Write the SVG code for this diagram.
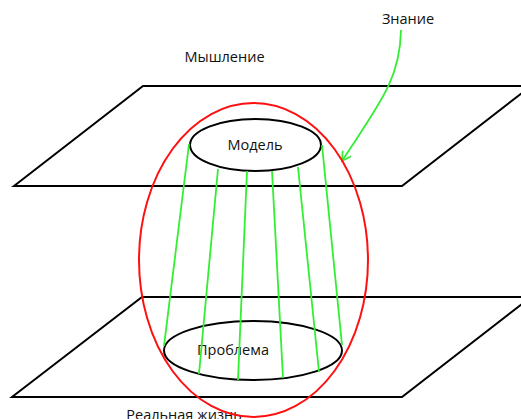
<svg xmlns="http://www.w3.org/2000/svg" width="521" height="419" viewBox="0 0 521 419">
<defs>
<style>
.plane{fill:none;stroke:#000;stroke-width:2}
.ell{fill:none;stroke:#000;stroke-width:2}
.green{fill:none;stroke:#33ee33;stroke-width:1.8}
.red{fill:none;stroke:#ff1010;stroke-width:2}
text{font-family:"Open Sans","Noto Sans",sans-serif;font-size:14.5px;fill:#111}
</style>
<marker id="arr" markerWidth="12" markerHeight="12" refX="10" refY="6" orient="auto" markerUnits="userSpaceOnUse">
<path d="M1,1 L10,6 L1,11" fill="none" stroke="#33ee33" stroke-width="1.8"/>
</marker>
</defs>
<rect width="521" height="419" fill="#fff"/>
<g id="plane-thinking">
<polygon class="plane" points="14,186 143,86 531,86 402,186"/>
<text x="224.5" y="62" text-anchor="middle">Мышление</text>
</g>
<g id="plane-life">
<polygon class="plane" points="12,397 142,297 531,297 402,397"/>
<text x="184" y="420" text-anchor="middle">Реальная жизнь</text>
</g>
<g id="model">
<ellipse class="ell" cx="255.5" cy="145" rx="65.5" ry="26"/>
<text x="255" y="150" text-anchor="middle">Модель</text>
</g>
<g id="problem">
<ellipse class="ell" cx="253" cy="350.5" rx="89" ry="29.5"/>
<text x="233" y="355" text-anchor="middle">Проблема</text>
</g>
<g id="connectors">
<line class="green" x1="189" y1="144" x2="164" y2="346"/>
<line class="green" x1="218" y1="169" x2="199" y2="374"/>
<line class="green" x1="247" y1="171" x2="238" y2="380"/>
<line class="green" x1="272" y1="171" x2="283" y2="378"/>
<line class="green" x1="298" y1="167" x2="319" y2="372"/>
<line class="green" x1="322" y1="145" x2="342" y2="345"/>
<path class="green" d="M401,30 C400,78 382,100 342,161" marker-end="url(#arr)"/>
</g>
<g id="knowledge">
<ellipse class="red" cx="253.5" cy="260" rx="114.5" ry="157"/>
<text x="408" y="24" text-anchor="middle">Знание</text>
</g>
</svg>
